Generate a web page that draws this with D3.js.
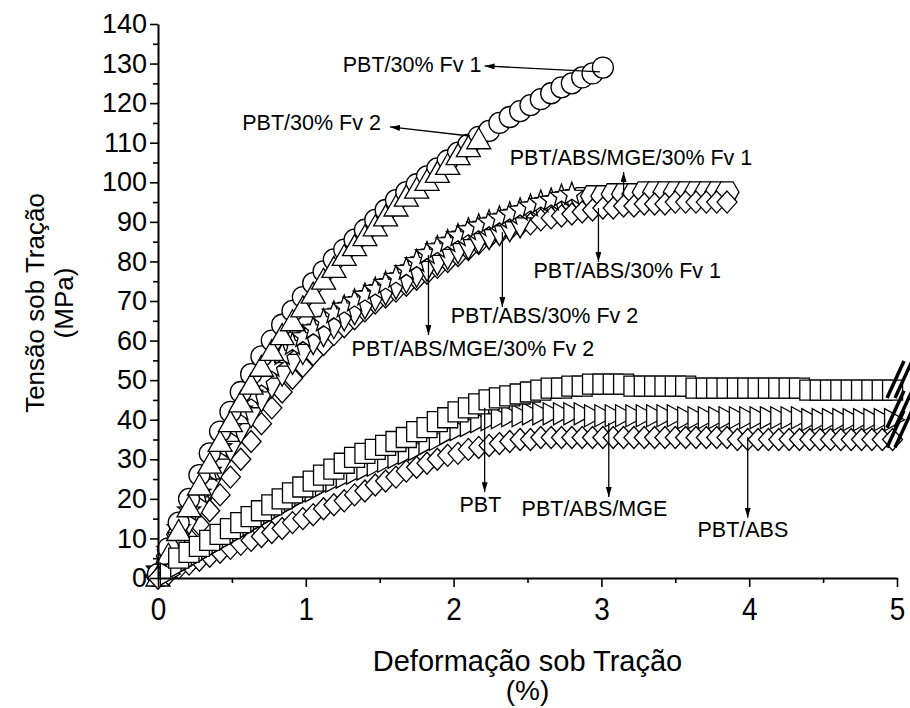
<!DOCTYPE html>
<html>
<head>
<meta charset="utf-8">
<title>Tensão sob Tração x Deformação</title>
<script src="https://cdnjs.cloudflare.com/ajax/libs/d3/7.8.5/d3.min.js"></script>
<style>
  body { margin: 0; background: #fff; }
  text { font-family: "Liberation Sans", Arial, sans-serif; fill: #000; }
</style>
</head>
<body>
<svg id="svg"></svg>
<script>
// strain sampling step (%) used by every curve
var step = 0.07;

var xTicks = [0, 1, 2, 3, 4, 5];
var xMinor = [0.5, 1.5, 2.5, 3.5, 4.5];
var yTicks = [0, 10, 20, 30, 40, 50, 60, 70, 80, 90, 100, 110, 120, 130, 140];
var yMinor = [5, 15, 25, 35, 45, 55, 65, 75, 85, 95, 105, 115, 125, 135];

// stress (MPa), one value per strain step
var fv1Y = [1,7.5,14,20,26,31.5,37,42,47,51.5,56,60,64,67.5,71,74.5,77.5,80.5,83,85.5,88,90.5,93,95.5,97.5,99.5,101.5,103.5,105.5,107.5,109.5,111.5,113,115,116.5,118,119.5,121,122.5,124,125,126.5,127.5,129];
var fv2Y = [0,5.5,11.5,17.5,23,28.5,34,39,44,48.5,53,57,61,64.5,68,71.5,75,78,81,83.5,86,88.5,91,93.5,96,98,100,102,104,106.5,108.5,110.5];
var mgeFv1Y = [0.5,5.5,11,15.5,20,25.5,31.5,36.5,41,45,48.5,52,55,57.5,59.5,61.5,63.5,65.5,67,68.5,70,71.5,73,74.5,76.5,78.5,80.5,82,83.5,85,86.5,87.5,88.5,89.5,90.5,91.5,92.5,93.5,94,95,95.5,96,96.5,96.5,97,97,97,97.5,97.5,97.5,97.5,97.5,97.5,97.5,97.5,97.5];
var absFv1Y = [0,3,6.5,10,13.5,17,21,25.5,30,34.5,39,43,47,50.5,53.5,56.5,59,61.5,63.5,65.5,67.5,69.5,71,72.5,74,75.5,77,78.5,80,81.5,83,84.5,86,87,88,89,89.5,90.5,91,91.5,92,92.5,93,93.5,93.5,94,94,94.5,94.5,94.5,95,95,95,95,95,95];
var absFv2Y = [1,5,9.5,14,18.5,23,28,32.5,37,41,45,48.5,51.5,54.5,57,59.5,61.5,63.5,65.5,67,68.5,70.5,72,73.5,75,76.5,78,79.5,81,82.5,83.5,85,86,87,88,89];
var mgeFv2Y = [2,7,12.5,17,21.5,27,33,38,42.5,46.5,50,53.5,56.5,59,61,63,65,67,68.5,70,71.5,73,74.5,76,78,80,82,83.5,85,86.5,88,89,90,91,92,93,94,95,95.5,96.5,97];
var pbtY = [5,6.5,8,9.5,11,12.5,14,15.5,17,18.5,20,21.5,23,24.5,26,27.5,29,30.5,31.5,32.5,33.5,34.5,35.5,37,38,39.5,40.5,42,43,44,45,45.5,46,46.5,47,47.5,48,48,48.5,48.5,49,49,49,49,48.5,48.5,48.5,48.5,48.5,48.5,48,48,48,48,48,48,48,48,48,48,48,47.5,47.5,47.5,47.5,47.5,47.5,47.5,47.5,47.5];
var mgeY = [1,3,4.5,6,7.5,9,10.5,12,13.5,15,16.5,18,19.5,21,22,23.5,24.5,25.5,26.5,27.5,28.5,29.5,30.5,31.5,32.5,34,35,36.5,37.5,38.5,39.5,40,40.5,41,41,41.5,41.5,41.5,41.5,41.5,41.5,41,41,41,41,41,41,41,41,41,40.5,40.5,40.5,40.5,40.5,40.5,40.5,40.5,40.5,40.5,40.5,40.5,40,40,40,40,40,40,40,40,40];
var absY = [0,1,2.5,3.5,4.5,5.5,6.5,7.5,8.5,9.5,10.5,11.5,12.5,14,15,16,17.5,18.5,19.5,21,22,23.5,24.5,25.5,27,28,29,30,31,31.5,32.5,33,33.5,34,34.5,35,35,35.5,35.5,35.5,35.5,35.5,35.5,35.5,35.5,35.5,35.5,35.5,35.5,35.5,35.5,35.5,35.5,35.5,35.5,35.5,35,35,35,35,35,35,35,35,35,35,35,35,35,35,35,35];

// drawing order: later series cover earlier ones
var series = [
  {name: "PBT/ABS/MGE/30% Fv 1", shape: "hexagon", x0: 0, values: mgeFv1Y},
  {name: "PBT/ABS/30% Fv 1", shape: "diamond", x0: 0, values: absFv1Y},
  {name: "PBT/ABS/30% Fv 2", shape: "triDown", x0: 0, values: absFv2Y},
  {name: "PBT/ABS/MGE/30% Fv 2", shape: "star", x0: 0, values: mgeFv2Y},
  {name: "PBT/30% Fv 1", shape: "circle", x0: 0, values: fv1Y},
  {name: "PBT/30% Fv 2", shape: "triUp", x0: 0, values: fv2Y},
  {name: "PBT/ABS", shape: "diamond", x0: 0, values: absY},
  {name: "PBT/ABS/MGE", shape: "triRight", x0: 0.07, values: mgeY},
  {name: "PBT", shape: "square", x0: 0.14, values: pbtY}
];

// labels: text position and arrow (from curve -> to label), in data units
var labels = [
  {text: "PBT/30% Fv 1", tx: 1.25, ty: 127.9, ax1: 2.99, ay1: 127.9, ax2: 2.21, ay2: 129.4},
  {text: "PBT/30% Fv 2", tx: 0.57, ty: 113.2, ax1: 2.11, ay1: 111.7, ax2: 1.57, ay2: 114.0},
  {text: "PBT/ABS/MGE/30% Fv 1", tx: 2.38, ty: 104.4, ax1: 3.15, ay1: 96.8, ax2: 3.15, ay2: 102.6},
  {text: "PBT/ABS/30% Fv 1", tx: 2.54, ty: 75.8, ax1: 2.98, ay1: 93.5, ax2: 2.98, ay2: 79.9},
  {text: "PBT/ABS/30% Fv 2", tx: 1.98, ty: 64.4, ax1: 2.33, ay1: 87.4, ax2: 2.33, ay2: 68.5},
  {text: "PBT/ABS/MGE/30% Fv 2", tx: 1.31, ty: 56.1, ax1: 1.83, ay1: 81.6, ax2: 1.83, ay2: 61.4},
  {text: "PBT", tx: 2.04, ty: 16.7, ax1: 2.21, ay1: 43.0, ax2: 2.21, ay2: 21.7},
  {text: "PBT/ABS/MGE", tx: 2.46, ty: 15.7, ax1: 3.05, ay1: 39.2, ax2: 3.05, ay2: 20.5},
  {text: "PBT/ABS", tx: 3.65, ty: 10.4, ax1: 3.99, ay1: 35.6, ax2: 3.99, ay2: 15.2}
];

var width = 910, height = 708;
var margin = {top: 24, left: 158, right: 13, bottom: 130};

var svg = d3.select("#svg")
    .attr("width", width)
    .attr("height", height);

var x = d3.scaleLinear().domain([0, 5]).range([margin.left, width - margin.right]);
var y = d3.scaleLinear().domain([0, 140]).range([height - margin.bottom, margin.top]);

function poly(pts) {
  return "M" + pts.map(function(p) { return p[0] + "," + p[1]; }).join("L") + "Z";
}

var shapes = {
  circle: function() { return d3.symbol().type(d3.symbolCircle).size(Math.PI * 10.5 * 10.5)(); },
  square: function() { return poly([[-10, -10], [10, -10], [10, 10], [-10, 10]]); },
  triUp: function() { return poly([[0, -13], [12, 8], [-12, 8]]); },
  triDown: function() { return poly([[0, 12], [11, -8], [-11, -8]]); },
  triRight: function() { return poly([[12, 0], [-8, -11], [-8, 11]]); },
  diamond: function() { return poly([[0, -11], [10, 0], [0, 11], [-10, 0]]); },
  hexagon: function() {
    return poly(d3.range(6).map(function(i) {
      var a = i * Math.PI / 3;
      return [12 * Math.cos(a), 12 * Math.sin(a)];
    }));
  },
  star: function() {
    return poly(d3.range(10).map(function(i) {
      var r = i % 2 ? 5 : 12, a = -Math.PI / 2 + i * Math.PI / 5;
      return [r * Math.cos(a), r * Math.sin(a)];
    }));
  }
};

// markers
var plotG = svg.append("g").attr("class", "body");
series.forEach(function(s) {
  var pts = s.values.map(function(v, i) { return {x: s.x0 + i * step, y: v}; });
  plotG.append("g")
    .selectAll("path")
    .data(pts)
    .enter().append("path")
    .attr("d", shapes[s.shape]())
    .attr("transform", function(d) { return "translate(" + x(d.x) + "," + y(d.y) + ")"; })
    .attr("fill", "#fff")
    .attr("stroke", "#000")
    .attr("stroke-width", 1.3);
});

// break marks at the end of the unfilled curves
[pbtY, mgeY, absY].forEach(function(vals) {
  var ex = x(5), ey = y(vals[vals.length - 1]);
  [-4, 4].forEach(function(off) {
    svg.append("line")
      .attr("x1", ex + off - 6).attr("y1", ey + 8)
      .attr("x2", ex + off + 11).attr("y2", ey - 29)
      .attr("stroke", "#000").attr("stroke-width", 3.5);
  });
});

// axes
var axisX = d3.axisBottom(x).tickValues(xTicks).tickSize(9).tickSizeOuter(0)
  .tickPadding(11).tickFormat(d3.format("d"));
var gx = svg.append("g")
  .attr("transform", "translate(0," + y(0) + ")")
  .call(axisX);
gx.selectAll("text")
  .attr("font-size", 31)
  .attr("transform", "scale(0.9,1)");
svg.append("g")
  .attr("transform", "translate(0," + y(0) + ")")
  .call(d3.axisBottom(x).tickValues(xMinor).tickSize(5).tickFormat(""))
  .select(".domain").remove();

var axisY = d3.axisLeft(y).tickValues(yTicks).tickSize(8).tickSizeOuter(0).tickPadding(3);
var gy = svg.append("g")
  .attr("transform", "translate(" + x(0) + ",0)")
  .call(axisY);
gy.selectAll("text").attr("font-size", 27);
svg.append("g")
  .attr("transform", "translate(" + x(0) + ",0)")
  .call(d3.axisLeft(y).tickValues(yMinor).tickSize(5).tickFormat(""))
  .select(".domain").remove();

svg.selectAll(".domain").attr("stroke-width", 2);
svg.selectAll(".tick line").attr("stroke-width", 1.6);
svg.selectAll(".tick text").attr("font-family", "'Liberation Sans', Arial, sans-serif");

// axis titles
var xMid = (x(0) + x(5)) / 2;
svg.append("text").attr("x", xMid).attr("y", 671).attr("text-anchor", "middle")
  .attr("font-size", 29).text("Deformação sob Tração");
svg.append("text").attr("x", xMid).attr("y", 700).attr("text-anchor", "middle")
  .attr("font-size", 28).text("(%)");

svg.append("text")
  .attr("transform", "translate(44," + (y(70) + 2) + ")rotate(-90)")
  .attr("text-anchor", "middle").attr("font-size", 26)
  .text("Tensão sob Tração");
svg.append("text")
  .attr("transform", "translate(73," + (y(70) + 2) + ")rotate(-90)")
  .attr("text-anchor", "middle").attr("font-size", 26)
  .text("(MPa)");

// annotations
svg.append("defs").append("marker")
  .attr("id", "head")
  .attr("viewBox", "0 0 10 6")
  .attr("refX", 10).attr("refY", 3)
  .attr("markerWidth", 10).attr("markerHeight", 6)
  .attr("markerUnits", "userSpaceOnUse")
  .attr("orient", "auto")
  .append("path").attr("d", "M0,0L10,3L0,6Z").attr("fill", "#000");

var annG = svg.append("g");
labels.forEach(function(l) {
  annG.append("line")
    .attr("x1", x(l.ax1)).attr("y1", y(l.ay1))
    .attr("x2", x(l.ax2)).attr("y2", y(l.ay2))
    .attr("stroke", "#000").attr("stroke-width", 1.3)
    .attr("marker-end", "url(#head)");
  annG.append("text")
    .attr("x", x(l.tx)).attr("y", y(l.ty))
    .attr("font-size", 21.5)
    .text(l.text);
});
</script>
</body>
</html>
